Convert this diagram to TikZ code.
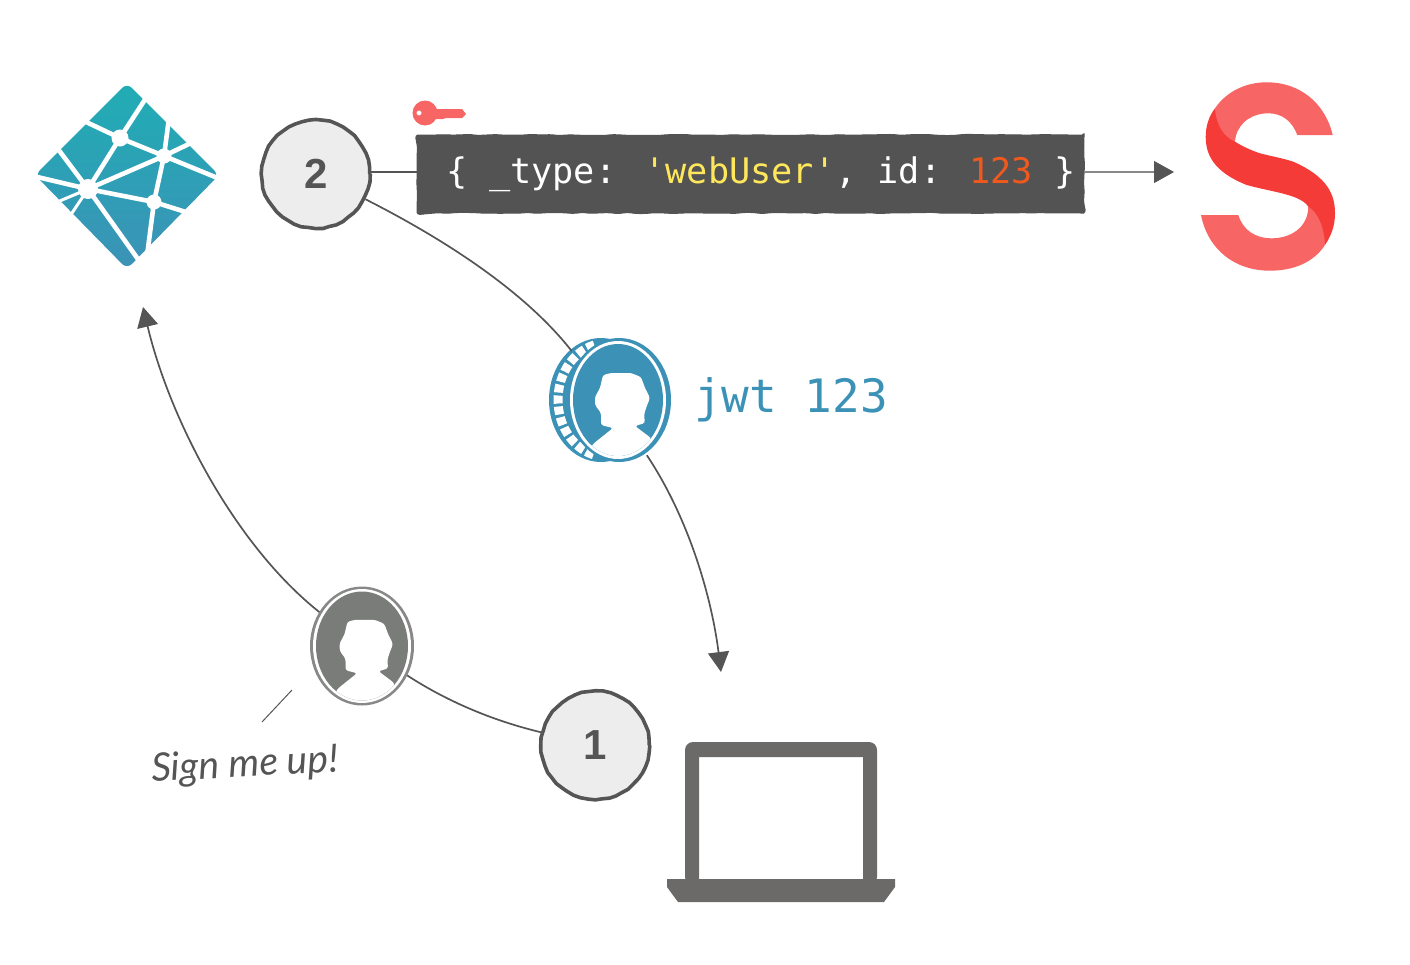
\documentclass[tikz,border=0pt]{standalone}
\usepackage{fontspec}
\setmainfont{Liberation Sans}
\newfontfamily\codefont{DejaVu Sans Mono}
\newfontfamily\handfont{Lato}
\definecolor{inkgray}{HTML}{555555}
\definecolor{stepfill}{HTML}{EDEDED}
\definecolor{codegray}{HTML}{535353}
\definecolor{codeyellow}{HTML}{FFE75C}
\definecolor{codeorange}{HTML}{F0591E}
\definecolor{jwtblue}{HTML}{3C92B6}
\definecolor{netteal}{HTML}{20ADB5}
\definecolor{sanlight}{HTML}{F76664}
\definecolor{sandark}{HTML}{F43B38}
\definecolor{usergray}{HTML}{797C78}
\definecolor{ringgray}{HTML}{888888}
\definecolor{laptopgray}{HTML}{6B6A68}
\usetikzlibrary{arrows.meta, positioning, shapes.geometric, decorations.pathmorphing}
\tikzset{
	stepnode/.style={circle, draw=inkgray, fill=stepfill, line width=3.6pt, minimum size=108pt, inner sep=0pt, font=\fontsize{42}{42}\selectfont\bfseries, text=inkgray, decorate, decoration={random steps, segment length=7pt, amplitude=0.5pt}},
	codebox/.style={rectangle, draw=codegray, fill=codegray, line width=1pt, rounded corners=3pt, minimum width=667pt, minimum height=78pt, inner sep=0pt, text=white, font=\codefont\fontsize{35.2}{35.2}\selectfont, decorate, decoration={random steps, segment length=9pt, amplitude=0.6pt}},
	jwtlabel/.style={text=jwtblue, inner sep=0pt, font=\codefont\fontsize{46}{46}\selectfont},
	handlabel/.style={text=inkgray, inner sep=0pt, rotate=3, font=\handfont\itshape\fontsize{39}{39}\selectfont},
	holder/.style={ellipse, inner sep=0pt, outer sep=0pt},
	sketchline/.style={draw=inkgray, line width=1.7pt},
	sketcharrow/.style={sketchline, -{Triangle[length=20pt, width=21pt]}},
	faintarrow/.style={draw=ringgray, line width=1.1pt, -{Triangle[length=20pt, width=22pt, color=inkgray]}},
	logoline/.style={white, line width=4.6pt},
	person/.pic={
		\fill[white, rounded corners=2.5pt] (-15,-25) -- (-7,-27) -- (13,-27) -- (23,-23) -- (27,-12) -- (32,-2) -- (28,8) -- (26,15) -- (27,23) -- (17,26) -- (33,38) -- (40,70) -- (-40,70) -- (-25,44) -- (-5,28) -- (-17,25) -- (-17,13) -- (-23,5) -- (-23,-3) -- (-18,-12) -- cycle;
	},
}
\begin{document}
\begin{tikzpicture}[x=1pt, y=-1pt]
	\pgfmathsetseed{7}
	\useasboundingbox (0,0) rectangle (1410,964);

	% logo top left
	\shade[rounded corners=7pt, top color=netteal, middle color=jwtblue, bottom color=jwtblue] (127,83) -- (219,175) -- (127,269) -- (35,175) -- cycle;
	\coordinate (netA) at (120,138);
	\coordinate (netB) at (164,156);
	\coordinate (netC) at (88,189);
	\coordinate (netD) at (154,202);
	\begin{scope}[logoline]
		\draw (146,98) -- (netA) -- (84,121);
		\draw (netA) -- (netB) -- (195,141);
		\draw (netA) -- (netC) -- (netB) -- (220,179);
		\draw (169,118) -- (netB) -- (netD) -- (147,256);
		\draw (netC) -- (netD) -- (192,214);
		\draw (33,176) -- (netC) -- (58,149);
		\draw (netC) -- (140,262);
		\draw[line width=3pt] (netC) -- (55,203);
		\draw[line width=3pt] (netC) -- (70,216);
		\fill (netA) circle (8.5pt) (netB) circle (7.5pt) (netC) circle (10pt) (netD) circle (7.5pt);
	\end{scope}

	% logo top right
	\fill[sandark] (1215,108.3) .. controls (1209,116) and (1205.7,126) .. (1205.7,136.7) .. controls (1205.7,155) and (1214,172) .. (1246.7,185) .. controls (1265,190) and (1280,192) .. (1293.3,196.7) .. controls (1302,200) and (1306,203) .. (1308.3,206.7) -- (1325,245) .. controls (1331,236) and (1335,226) .. (1335,213.3) .. controls (1335,195) and (1328,177) .. (1293.3,161.7) .. controls (1282,158) and (1270,156) .. (1260,153.3) .. controls (1250,150) and (1242,146) .. (1235,141.7) -- cycle;
	\fill[sanlight] (1332.7,135) .. controls (1325,103) and (1300,82.3) .. (1266.7,82.3) .. controls (1245,82.3) and (1226,92) .. (1215,108.3) .. controls (1216,125) and (1224,137) .. (1235,141.7) .. controls (1236,125) and (1250,113.3) .. (1268.3,113.3) .. controls (1282,113.3) and (1292,121) .. (1297.3,135) -- cycle;
	\fill[sanlight] (1201,215) -- (1238.3,215) .. controls (1243,230) and (1255,238.3) .. (1271.7,238.3) .. controls (1290,238.3) and (1308,228) .. (1308.3,206.7) .. controls (1318,213) and (1324,226) .. (1325,245) .. controls (1314,262) and (1294,270.7) .. (1270,270.7) .. controls (1235,270.7) and (1208,250) .. (1201,215) -- cycle;

	% key
	\fill[sanlight, even odd rule] (425,113) circle (12.5pt) (419,113) circle (2.6pt);
	\fill[sanlight] (434,109) -- (462,109) -- (466,114) -- (462,118) -- (446,118) -- (443,119) -- (434,119) -- cycle;

	% steps and code
	\node[stepnode] (step2) at (315.7,174) {2};
	\node[codebox] (token) at (750.5,174) {{ }\{ \_type: \textcolor{codeyellow}{'webUser'}, id: \textcolor{codeorange}{123} \}{ }};
	\node[stepnode] (step1) at (595.3,745.3) {1};

	% coin
	\node[holder, minimum width=122pt, minimum height=126pt] (coin) at (610,400) {};
	\fill[jwtblue] (601,400) ellipse [x radius=52pt, y radius=62pt];
	\draw[white, line width=9pt, dash pattern=on 8pt off 3pt] (607,400) ++(105:49pt and 57pt) arc [start angle=105, end angle=255, x radius=49pt, y radius=57pt];
	\fill[jwtblue] (619,400) ellipse [x radius=52pt, y radius=62pt];
	\fill[white] (618,400) ellipse [x radius=48pt, y radius=59pt];
	\fill[jwtblue] (618,400) ellipse [x radius=45pt, y radius=56pt];
	\begin{scope}
		\clip (618,400) ellipse [x radius=45pt, y radius=56pt];
		\pic at (618,400) {person};
	\end{scope}
	\node[jwtlabel, anchor=west] (jwt) at (694,400) {jwt 123};

	% user
	\node[holder, minimum width=104pt, minimum height=119pt] (user) at (362,646) {};
	\fill[ringgray] (362,646) ellipse [x radius=52pt, y radius=59.5pt];
	\fill[white] (362,646) ellipse [x radius=49pt, y radius=57pt];
	\fill[usergray] (362,646) ellipse [x radius=46pt, y radius=54.5pt];
	\begin{scope}
		\clip (362,646) ellipse [x radius=46pt, y radius=54.5pt];
		\pic[scale=0.97] at (362,646) {person};
	\end{scope}
	\node[handlabel] (signup) at (245,766) {Sign me up!};

	% laptop
	\fill[laptopgray, even odd rule, rounded corners=0pt] [rounded corners=8pt] (685,885) -- (685,742) -- (877,742) -- (877,885) -- cycle [sharp corners] (699,757) -- (863,757) -- (863,885) -- (699,885) -- cycle;
	\fill[laptopgray] (667,879) -- (895,879) -- (895,887) -- (884,902) -- (678,902) -- (667,887) -- cycle;

	% connector ends
	\coordinate (nettip) at (143,307);
	\coordinate (lapstip) at (721,672);
	\coordinate (santip) at (1174,172);
	\coordinate (tickup) at (292,690);
	\coordinate (tickdown) at (262,722);

	\draw[sketcharrow] (user) .. controls (235,545) and (170,420) .. (nettip);
	\draw[sketchline] (step1) .. controls (490,720) and (445,700) .. (user);
	\draw[sketchline] (step2.2) -- (step2.2 -| token.west);
	\draw[sketchline] (step2) .. controls (430,232) and (520,285) .. (coin);
	\draw[sketcharrow, shorten <=4pt] (coin) .. controls (690,520) and (712,600) .. (lapstip);
	\draw[faintarrow] (santip -| token.east) -- (santip);
	\draw[sketchline, line width=1pt] (tickup) -- (tickdown);
\end{tikzpicture}
\end{document}
